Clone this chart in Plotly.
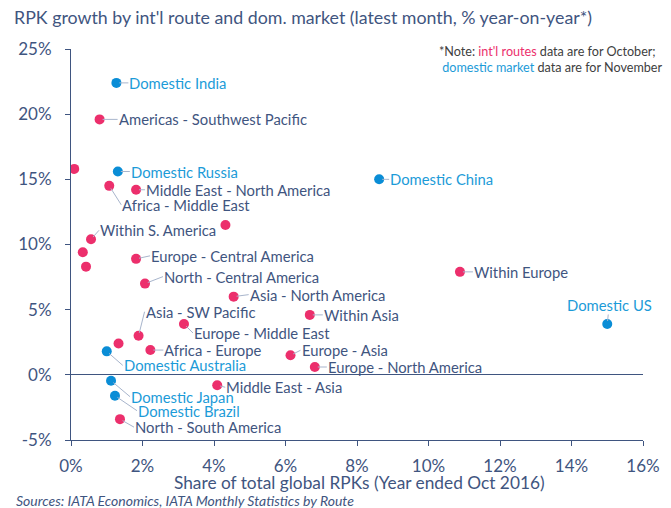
import plotly.graph_objects as go

# International routes (share of global RPKs %, RPK growth % yoy)
intl_names = ["Americas - Southwest Pacific", "", "Middle East - North America",
              "Africa - Middle East", "Within S. America", "", "", "",
              "Europe - Central America", "North - Central America",
              "Asia - North America", "Within Asia", "Asia - SW Pacific",
              "Europe - Middle East", "", "Africa - Europe", "Europe - Asia",
              "Europe - North America", "Middle East - Asia",
              "North - South America", "Within Europe"]
intl_share = [0.80, 0.09, 1.82, 1.07, 0.56, 0.33, 0.42, 4.32,
              1.82, 2.07, 4.55, 6.68, 1.89, 3.16, 1.33, 2.22, 6.14,
              6.82, 4.09, 1.37, 10.88]
intl_growth = [19.6, 15.8, 14.2, 14.5, 10.4, 9.4, 8.3, 11.5,
               8.9, 7.0, 6.0, 4.6, 3.0, 3.9, 2.4, 1.9, 1.5,
               0.6, -0.8, -3.4, 7.9]

# Domestic markets
dom_names = ["Domestic India", "Domestic Russia", "Domestic China", "Domestic US",
             "Domestic Australia", "Domestic Japan", "Domestic Brazil"]
dom_share = [1.27, 1.31, 8.62, 15.0, 1.0, 1.12, 1.23]
dom_growth = [22.4, 15.6, 15.0, 3.9, 1.8, -0.45, -1.6]

x_ticks = [0, 2, 4, 6, 8, 10, 12, 14, 16]
y_ticks = [-5, 0, 5, 10, 15, 20, 25]

PINK = "#EC2F6C"
BLUE = "#0A8DD6"
BLUE_TXT = "#1C9BD8"
SLATE = "#3F5580"
LEADER = "#A8B5CC"
FONT = "Lato"

# label offsets in pixels (dx to text left edge, dy to text middle)
offsets = {
    "Americas - Southwest Pacific": (18, 0),
    "Middle East - North America": (9, 0),
    "Africa - Middle East": (12, 19),
    "Within S. America": (8, -9),
    "Europe - Central America": (14, -3),
    "North - Central America": (18, -7),
    "Asia - North America": (15, -2),
    "Within Asia": (13, 0),
    "Asia - SW Pacific": (6, -24),
    "Europe - Middle East": (9, 9),
    "Africa - Europe": (13, 0),
    "Europe - Asia": (10, -5),
    "Europe - North America": (12, 0),
    "Middle East - Asia": (8, 2),
    "North - South America": (14, 8),
    "Within Europe": (13, 0),
    "Domestic India": (12, 0),
    "Domestic Russia": (12, 0),
    "Domestic China": (10, 0),
    "Domestic US": (2, -19),
    "Domestic Australia": (16, 14),
    "Domestic Japan": (19, 16),
    "Domestic Brazil": (22, 15),
}

W, H = 671, 508
L, R, T, B = 71, 28, 49, 68


def px_x(px):
    return (px - L) / (W - L - R)


def px_y(py):
    return (H - B - py) / (H - T - B)


fig = go.Figure()
fig.add_trace(go.Scatter(x=intl_share, y=intl_growth, mode="markers",
                         marker=dict(color=PINK, size=10), hoverinfo="text",
                         text=intl_names, showlegend=False))
fig.add_trace(go.Scatter(x=dom_share, y=dom_growth, mode="markers",
                         marker=dict(color=BLUE, size=10), hoverinfo="text",
                         text=dom_names, showlegend=False))

annotations = []
for names, xs, ys, col in [(intl_names, intl_share, intl_growth, SLATE),
                           (dom_names, dom_share, dom_growth, BLUE_TXT)]:
    for n, xv, yv in zip(names, xs, ys):
        if not n:
            continue
        dx, dy = offsets[n]
        centered = n == "Domestic US"
        annotations.append(dict(
            x=xv, y=yv, xref="x", yref="y", text=n, showarrow=True,
            ax=dx, ay=dy, arrowhead=0, arrowwidth=1, arrowcolor=LEADER,
            standoff=3, xanchor="center" if centered else "left",
            yanchor="middle", borderpad=0,
            font=dict(family=FONT, size=14.8, color=col)))

# note in top-right corner
annotations.append(dict(
    xref="paper", yref="paper", x=px_x(664), y=px_y(59), xanchor="right",
    yanchor="middle", showarrow=False, align="left",
    text=("*Note: <span style='color:%s'>int'l routes</span> data are for October;<br>"
          " <span style='color:%s'>domestic market</span> data are for November") % (PINK, BLUE_TXT),
    font=dict(family=FONT, size=12.6, color="#404040")))

# x-axis title and source
annotations.append(dict(
    xref="paper", yref="paper", x=px_x(359), y=px_y(482), xanchor="center",
    yanchor="middle", showarrow=False,
    text="Share of total global RPKs (Year ended Oct 2016)",
    font=dict(family=FONT, size=17.3, color=SLATE)))
annotations.append(dict(
    xref="paper", yref="paper", x=px_x(14), y=px_y(500), xanchor="left",
    yanchor="middle", showarrow=False,
    text="<i>Sources: IATA Economics, IATA Monthly Statistics by Route</i>",
    font=dict(family=FONT, size=14, color=SLATE)))

fig.update_layout(
    width=W, height=H,
    margin=dict(l=L, r=R, t=T, b=B, autoexpand=False),
    paper_bgcolor="white", plot_bgcolor="white",
    title=dict(text="RPK growth by int'l route and dom. market (latest month, % year-on-year*)",
               x=14 / W, xref="container", xanchor="left",
               y=1 - 18 / H, yref="container", yanchor="middle",
               font=dict(family=FONT, size=17.8, color=SLATE)),
    xaxis=dict(range=[0, 16], tickvals=x_ticks, automargin=False,
               ticktext=[f"{v}%" for v in x_ticks],
               showgrid=False, zeroline=False, showline=True,
               linecolor=SLATE, linewidth=1, ticks="outside", ticklen=5,
               tickcolor=SLATE, ticklabelstandoff=6,
               tickfont=dict(family=FONT, size=17, color=SLATE)),
    yaxis=dict(range=[-5, 25], tickvals=y_ticks, automargin=False,
               ticktext=[f"{v}%" for v in y_ticks],
               showgrid=False, zeroline=True, zerolinecolor=SLATE,
               zerolinewidth=1.3, showline=True, linecolor=SLATE, linewidth=1,
               ticks="outside", ticklen=5, tickcolor=SLATE, ticklabelstandoff=10,
               tickfont=dict(family=FONT, size=17, color=SLATE)),
    annotations=annotations,
)

# the page has a default body margin; drop it so the figure fills the window
fig.write_html("out.html", config={"displayModeBar": False},
               post_script="document.body.style.margin='0';")
